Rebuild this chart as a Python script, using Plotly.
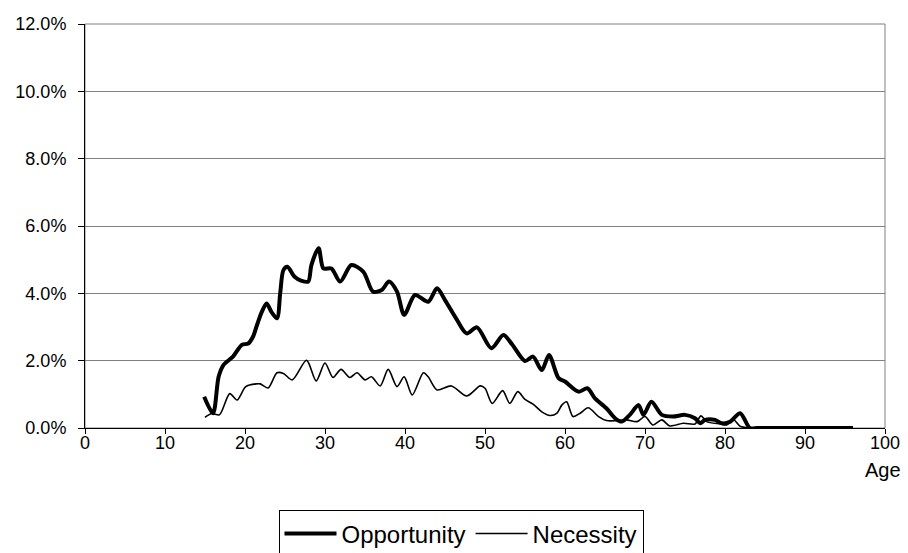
import plotly.graph_objects as go

# Opportunity (thick line): age, percent
opp_age = [14.9, 16.0, 16.7, 17.3, 18.5, 19.6, 20.4, 21.0, 21.5, 22.1, 22.7, 23.3, 24.0, 24.4, 24.8,
           25.3, 26.2, 27.0, 27.9, 28.3, 29.2, 29.8, 30.8, 31.9, 33.3, 34.8, 36.0, 37.1, 38.0, 39.0,
           39.9, 41.25, 42.9, 44.0, 45.0, 46.4, 47.7, 49.0, 50.8, 52.3, 53.4, 55.0, 56.0, 57.1, 58.0,
           59.2, 60.0, 61.7, 62.8, 63.75, 65.2, 66.3, 67.1, 68.1, 69.2, 69.8, 70.8, 72.1, 73.5, 75.0,
           76.25, 76.9, 77.5, 78.75, 79.6, 80.6, 81.9, 83.1, 84, 85, 86, 87, 88, 89, 90, 91, 92, 93,
           94, 95, 96]
opp_val = [0.93, 0.44, 1.52, 1.87, 2.12, 2.47, 2.51, 2.71, 3.06, 3.45, 3.70, 3.45, 3.26, 4.00, 4.69,
           4.79, 4.49, 4.38, 4.35, 4.84, 5.34, 4.74, 4.74, 4.35, 4.84, 4.64, 4.05, 4.10, 4.35, 4.05,
           3.36, 3.95, 3.75, 4.15, 3.80, 3.25, 2.81, 2.99, 2.37, 2.76, 2.48, 1.99, 2.12, 1.72, 2.17,
           1.48, 1.38, 1.08, 1.18, 0.88, 0.58, 0.28, 0.19, 0.39, 0.68, 0.39, 0.78, 0.39, 0.34, 0.39,
           0.29, 0.14, 0.24, 0.24, 0.14, 0.18, 0.44, 0.0, 0, 0, 0, 0, 0, 0, 0, 0, 0, 0,
           0, 0, 0]

# Necessity (thin line): age, percent
nec_age = [15.0, 15.9, 16.8, 18.1, 19.0, 20.1, 21.4, 21.9, 22.9, 24.0, 24.8, 25.9, 27.7, 28.9, 30.0,
           31.0, 32.0, 33.1, 34.0, 35.0, 35.8, 36.9, 37.9, 39.0, 39.9, 40.9, 42.3, 42.9, 44.0, 45.8,
           47.7, 49.4, 50.0, 50.9, 52.2, 53.1, 54.1, 55.0, 56.0, 57.1, 58.1, 59.0, 59.6, 60.2, 61.0,
           61.9, 62.9, 64.2, 65.2, 66.5, 67.7, 69.0, 70.0, 71.0, 72.1, 73.1, 74.8, 76.25, 77.0, 77.7,
           79.4, 80.2, 81.0, 81.9, 83, 84, 85, 86, 87, 88, 89, 90, 91, 92, 93, 94, 95, 96]
nec_val = [0.32, 0.43, 0.39, 1.02, 0.83, 1.23, 1.31, 1.31, 1.19, 1.64, 1.62, 1.43, 2.01, 1.40, 1.93,
           1.50, 1.74, 1.50, 1.64, 1.43, 1.52, 1.25, 1.74, 1.23, 1.52, 0.98, 1.64, 1.52, 1.13, 1.25,
           0.95, 1.25, 1.18, 0.73, 1.11, 0.73, 1.08, 0.85, 0.71, 0.48, 0.37, 0.44, 0.68, 0.78, 0.34,
           0.44, 0.60, 0.34, 0.22, 0.22, 0.24, 0.19, 0.34, 0.09, 0.24, 0.06, 0.14, 0.12, 0.36, 0.19,
           0.12, 0.09, 0.26, 0.05, 0, 0, 0, 0, 0, 0, 0, 0, 0, 0, 0, 0, 0, 0]

x_ticks = [0, 10, 20, 30, 40, 50, 60, 70, 80, 90, 100]
y_ticks = [0, 2, 4, 6, 8, 10, 12]
y_tick_labels = ["0.0%", "2.0%", "4.0%", "6.0%", "8.0%", "10.0%", "12.0%"]

FONT = "Liberation Sans, Arial, sans-serif"

fig = go.Figure()
fig.add_trace(go.Scatter(x=opp_age, y=opp_val, mode="lines", name="Opportunity",
                         line=dict(color="black", width=4, shape="spline", smoothing=0.8)))
fig.add_trace(go.Scatter(x=nec_age, y=nec_val, mode="lines", name="Necessity",
                         line=dict(color="black", width=1.6, shape="spline", smoothing=0.8)))

fig.update_layout(
    width=908, height=553, autosize=False,
    margin=dict(l=85, r=23, t=24, b=125, autoexpand=False),
    paper_bgcolor="white", plot_bgcolor="white",
    font=dict(family=FONT, size=18, color="black"),
    showlegend=True,
    legend=dict(orientation="h", x=0.47, xanchor="center", yref="container", y=0.077, yanchor="top",
                bordercolor="black", borderwidth=1, font=dict(size=24, family=FONT),
                bgcolor="white", itemwidth=52, traceorder="normal"),
    shapes=[dict(type="rect", xref="paper", yref="paper", x0=0, x1=1, y0=0, y1=1,
                 line=dict(color="#808080", width=1), layer="below")],
    annotations=[dict(text="Age", xref="paper", yref="paper", x=1.022, y=-0.105,
                      xanchor="right", yanchor="middle", showarrow=False,
                      font=dict(size=20, family=FONT))],
)
fig.update_xaxes(range=[0, 100], tickvals=x_ticks, ticks="outside", ticklen=5, tickcolor="black",
                 showline=True, linecolor="black", linewidth=1, showgrid=False, zeroline=False,
                 tickfont=dict(size=18), automargin=False, ticklabelstandoff=-7)
fig.update_yaxes(range=[0, 12], tickvals=y_ticks, ticktext=y_tick_labels,
                 ticks="outside", ticklen=6, tickcolor="black", ticklabelstandoff=8,
                 showline=True, linecolor="black", linewidth=1, showgrid=True,
                 gridcolor="#808080", gridwidth=1, zeroline=False, tickfont=dict(size=18),
                 automargin=False)

fig.write_html("out.html", config={"displayModeBar": False},
               post_script="document.body.style.margin='0px';")
